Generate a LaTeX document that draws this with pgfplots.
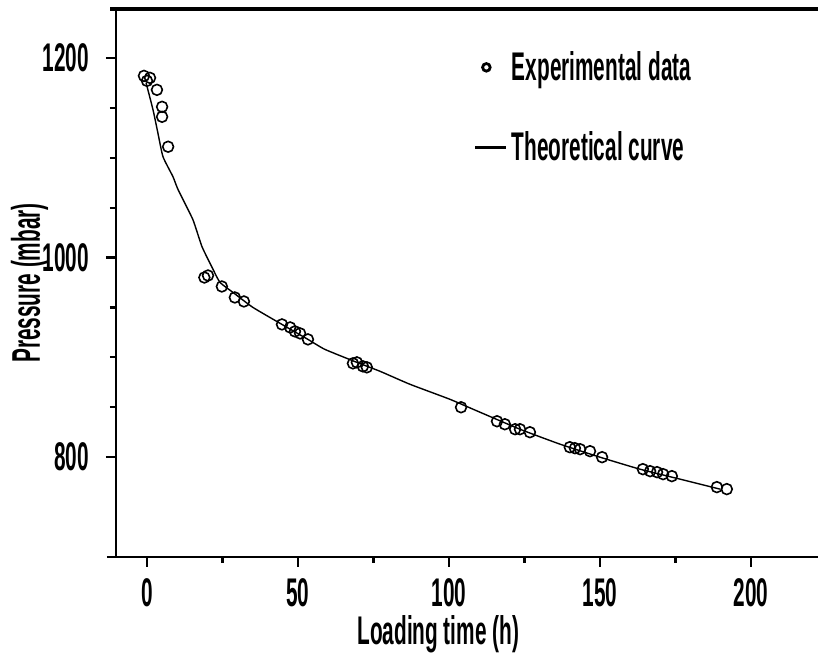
\documentclass[border=0pt]{standalone}
\usepackage{fontspec}
\setmainfont{Liberation Sans}[FakeStretch=0.52, UprightFont={* Bold}]
\usepackage{pgfplots}
\pgfplotsset{compat=1.18}
\newcommand{\chartfont}{\fontsize{20}{24}\selectfont}
\begin{document}
\begin{tikzpicture}[font=\chartfont]
\begin{axis}[
  scale only axis,
  width=351pt, height=274pt,
  xmin=-10.26, xmax=222.2,
  ymin=700, ymax=1249,
  axis lines=left,
  axis line style={-, line width=1.3pt},
  clip=false,
  /pgf/number format/assume math mode=true,
  /pgf/number format/1000 sep={},
  xtick={0,50,100,150,200},
  ytick={800,1000,1200},
  minor x tick num=1,
  minor y tick num=3,
  tick align=outside,
  major tick length=5pt,
  minor tick length=3pt,
  every tick/.style={black, line width=1.1pt},
  tick label style={font=\chartfont},
  label style={font=\chartfont},
  xticklabel style={anchor=base, yshift=-20pt},
  yticklabel style={anchor=east, xshift=-5pt},
  xlabel={Loading time (h)},
  ylabel={Pressure (mbar)},
  every axis x label/.style={at={([yshift=-44pt]axis description cs:0.459,0)}, anchor=base},
  every axis y label/.style={at={([xshift=-38pt]axis description cs:0,0.5)}, rotate=90, anchor=base},
  legend style={at={(axis description cs:0.500,0.938)}, anchor=north west, draw=none, fill=none, row sep=20pt, font=\chartfont},
  legend cell align=left,
]
\addplot[only marks, mark=o, mark size=2.7pt, mark options={line width=0.8pt, black},
  legend image code/.code={\draw[line width=1.4pt] (0.1cm,0cm) circle (1.9pt);}] coordinates {
(-1,1182) (0,1177) (1,1180) (3.3,1168) (5,1151) (5,1141) (7,1111)
(19,980) (20.2,982) (24.8,971) (29.1,960) (32.1,956)
(44.7,933) (47.4,930) (49,926) (50.7,924) (53.3,918)
(68.2,894) (69.5,895) (71.5,891) (72.8,890)
(104,850)
(115.9,836) (118.5,833) (121.9,828) (123.5,828) (126.8,825)
(140,810) (141.7,809) (143.4,808) (146.7,806) (150.7,800)
(164.2,788) (166.6,786) (168.9,785) (170.9,783) (173.8,781)
(188.7,770) (192,768)
};
\addlegendentry{Experimental data}
\addplot[black, line width=0.7pt, smooth, tension=0.3,
  legend image code/.code={\draw[line width=1.6pt] (-0.1cm,0cm) -- (0.45cm,0cm);}] coordinates {
(-0.3,1175) (2,1148) (3.6,1125) (5.3,1101) (8.6,1081) (10.3,1068) (15.2,1038)
(18.2,1011) (21.9,988) (24.2,975) (28.5,965) (35.1,950) (44.7,933) (53.3,918)
(58.9,908) (69.5,895) (77.2,886) (87.1,873) (100.3,858) (110.3,845) (123.5,828)
(136.8,813) (150,800) (163.2,788) (176.5,778) (189.7,768)
};
\addlegendentry{Theoretical curve}
\draw[line width=2pt] (rel axis cs:-0.008,1) -- (rel axis cs:1,1);
\draw[line width=1.3pt] (rel axis cs:-0.013,0) -- (rel axis cs:0,0);
\end{axis}
\pgfresetboundingbox
\path ([xshift=-58pt,yshift=-49.5pt]current axis.south west) rectangle ([yshift=4.5pt]current axis.north east);
\end{tikzpicture}
\end{document}
